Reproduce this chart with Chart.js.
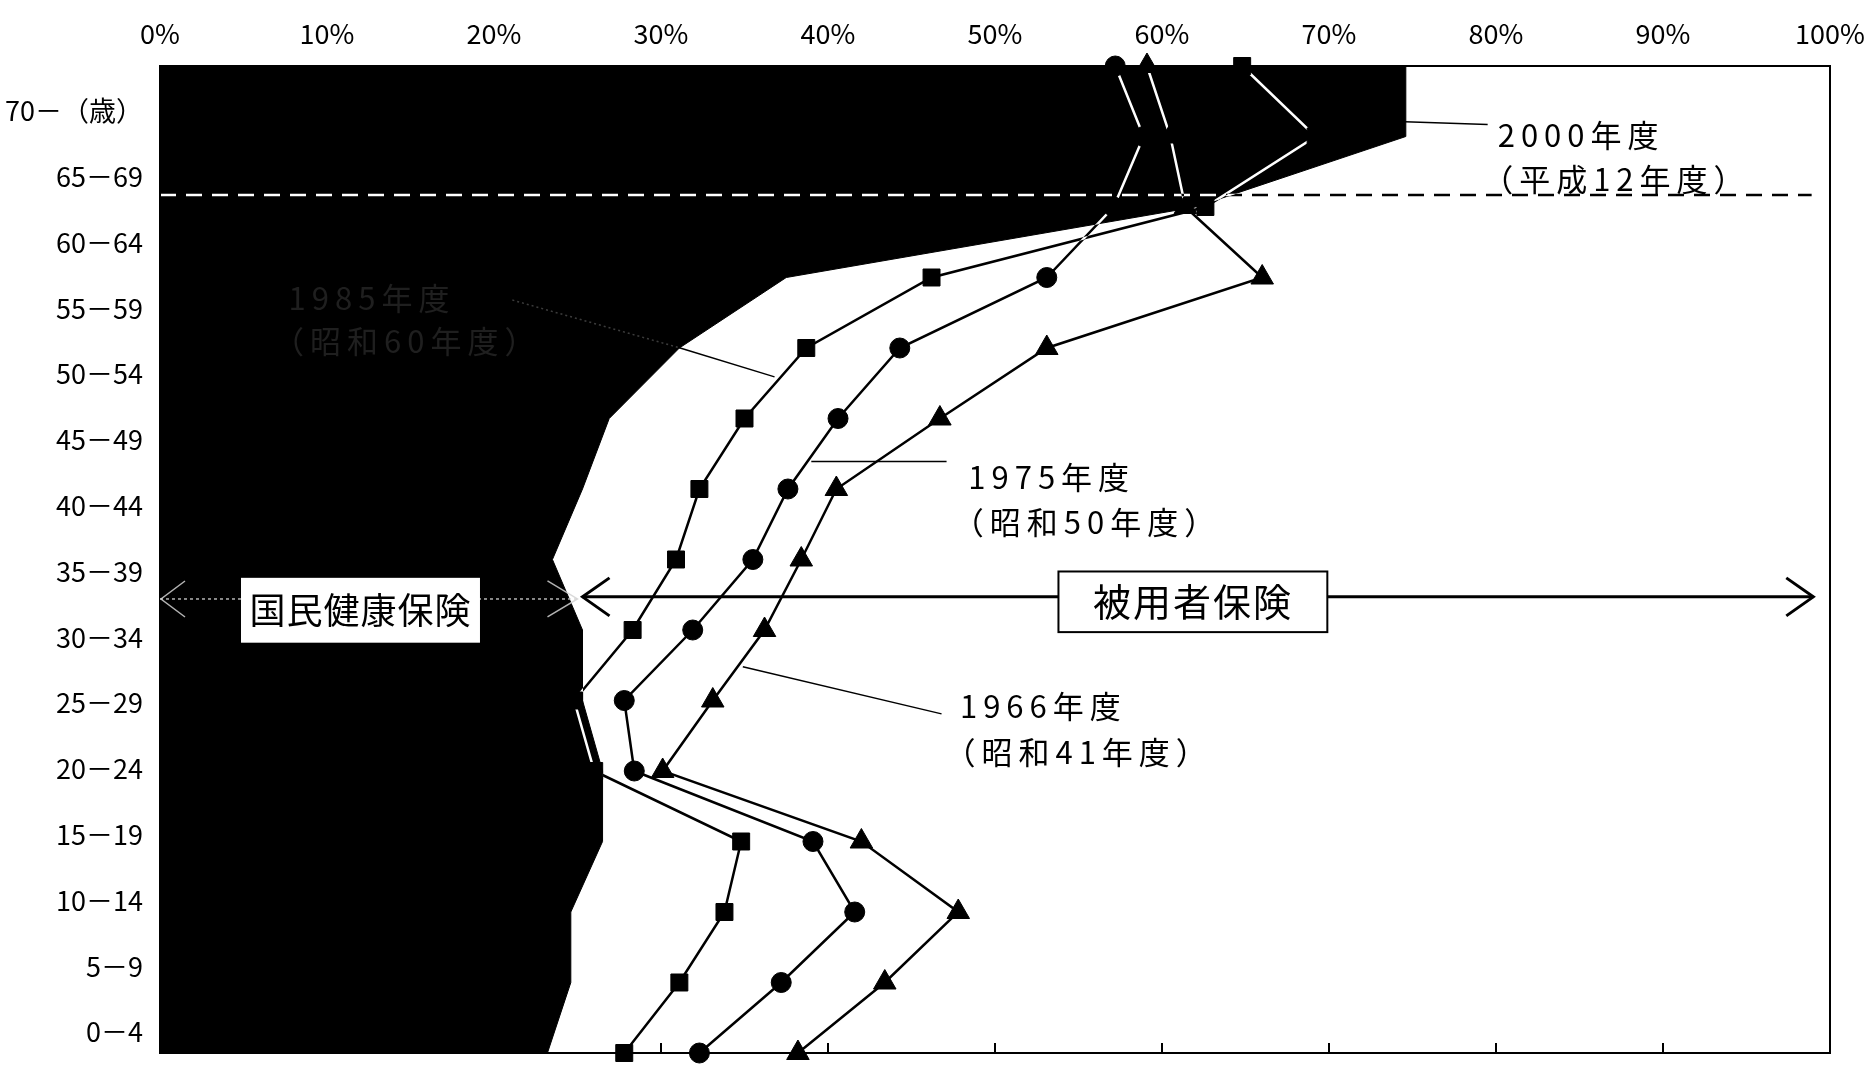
<!DOCTYPE html>
<html>
<head>
<meta charset="utf-8">
<script src="https://cdn.jsdelivr.net/npm/chart.js@4.4.1/dist/chart.umd.min.js"></script>
<style>
  html, body { margin: 0; padding: 0; background: #fff; }
  canvas { display: block; }
</style>
</head>
<body>
<canvas id="c" width="1876" height="1067"></canvas>
<script>
// ---------------- data ----------------
const ageGroups = ['0－4', '5－9', '10－14', '15－19', '20－24', '25－29', '30－34', '35－39',
                   '40－44', '45－49', '50－54', '55－59', '60－64', '65－69', '70－（歳）'];
const xTickValues = [0, 10, 20, 30, 40, 50, 60, 70, 80, 90, 100];
const xTickLabels = ['0%', '10%', '20%', '30%', '40%', '50%', '60%', '70%', '80%', '90%', '100%'];

// share (%) by age group, young -> old
const nhi2000 = [23.2, 24.6, 24.6, 26.5, 26.5, 25.3, 25.3, 23.5, 25.3, 26.9, 31.1, 37.5, 62.0, 74.6, 74.6];
const fy1966  = [38.2, 43.4, 47.8, 42.0, 30.1, 33.1, 36.2, 38.4, 40.5, 46.7, 53.1, 66.0, 61.4, 60.5, 59.1];
const fy1975  = [32.3, 37.2, 41.6, 39.1, 28.4, 27.8, 31.9, 35.5, 37.6, 40.6, 44.3, 53.1, 57.1, 58.9, 57.2];
const fy1985  = [27.8, 31.1, 33.8, 34.8, 26.0, 24.8, 28.3, 30.9, 32.3, 35.0, 38.7, 46.2, 62.6, 69.2, 64.8];

const label2000 = ['2000年度', '（平成12年度）'];
const label1985 = ['1985年度', '（昭和60年度）'];
const label1975 = ['1975年度', '（昭和50年度）'];
const label1966 = ['1966年度', '（昭和41年度）'];
const labelNHI = '国民健康保険';
const labelEmp = '被用者保険';

// ---------------- chart ----------------
const FONT = '"Noto Sans CJK JP", "Noto Sans", sans-serif';

function lineSet(data) {
  return { type: 'line', data, borderColor: '#fff', borderWidth: 2.5, pointRadius: 0,
           fill: false, tension: 0, order: 5, invert: true, clip: false };
}
function pointSet(data, style, r) {
  return { type: 'line', data, showLine: false, pointStyle: style, pointRadius: r,
           pointBackgroundColor: '#000', pointBorderColor: '#000', pointBorderWidth: 1,
           borderColor: '#000', order: 1, clip: false };
}

const decor = {
  id: 'decor',
  beforeDraw(chart) {
    const c = chart.ctx;
    c.save(); c.fillStyle = '#fff'; c.fillRect(0, 0, chart.width, chart.height); c.restore();
  },
  beforeDatasetDraw(chart, args) {
    if (chart.data.datasets[args.index].invert) {
      chart.ctx.save();
      chart.ctx.globalCompositeOperation = 'difference';
    }
  },
  afterDatasetDraw(chart, args) {
    if (chart.data.datasets[args.index].invert) chart.ctx.restore();
  },
  afterDatasetsDraw(chart) {
    const ctx = chart.ctx, xs = chart.scales.x, ys = chart.scales.y, ca = chart.chartArea;
    const X = v => xs.getPixelForValue(v), Y = v => ys.getPixelForValue(v);
    const seg = (x1, y1, x2, y2) => { ctx.beginPath(); ctx.moveTo(x1, y1); ctx.lineTo(x2, y2); ctx.stroke(); };
    const text = (s, x, y, size, color, align, ls) => {
      ctx.font = size + 'px ' + FONT;
      ctx.letterSpacing = (ls || 0) + 'px';
      ctx.fillStyle = color; ctx.textAlign = align; ctx.textBaseline = 'middle';
      ctx.fillText(s, x, y);
    };

    // dashed line (inverted on black)
    ctx.save();
    ctx.globalCompositeOperation = 'difference';
    ctx.strokeStyle = '#fff'; ctx.lineWidth = 2.5; ctx.setLineDash([16, 10]);
    seg(X(0), Y(12.17), X(98.9), Y(12.17));
    ctx.restore();

    ctx.save();
    // frame
    ctx.strokeStyle = '#000'; ctx.lineWidth = 2;
    ctx.strokeRect(ca.left, ca.top, ca.right - ca.left, ca.bottom - ca.top);
    // bottom ticks (inward)
    xTickValues.forEach(v => { if (v > 0 && v < 100) seg(X(v), ca.bottom, X(v), ca.bottom - 10); });

    // leaders
    ctx.lineWidth = 1.5;
    seg(X(74.55), Y(13.21), X(79.5), Y(13.17));
    seg(X(39.0), Y(8.39), X(47.1), Y(8.39));
    seg(X(34.9), Y(5.48), X(46.8), Y(4.81));
    seg(X(31.0), Y(10.01), X(36.8), Y(9.59));
    ctx.save();
    ctx.strokeStyle = '#3c3c3c'; ctx.setLineDash([2, 3]);
    seg(X(21.1), Y(10.68), X(31.0), Y(10.01));
    ctx.restore();

    // series labels
    const fs = 31, ls = 6;
    text(label2000[0], X(80.1), Y(13.02), fs, '#000', 'left', ls);
    text(label2000[1], X(80.1) - fs * 0.5, Y(12.40), fs, '#000', 'left', ls);
    text(label1975[0], X(48.4), Y(8.17), fs, '#000', 'left', ls);
    text(label1975[1], X(48.4) - fs * 0.5, Y(7.53), fs, '#000', 'left', ls);
    text(label1966[0], X(47.9), Y(4.92), fs, '#000', 'left', ls);
    text(label1966[1], X(47.9) - fs * 0.5, Y(4.27), fs, '#000', 'left', ls);
    text(label1985[0], X(7.7), Y(10.71), fs, '#1f1f1f', 'left', ls);
    text(label1985[1], X(7.7) - fs * 0.5, Y(10.09), fs, '#1f1f1f', 'left', ls);

    // 国民健康保険 arrow (faint dotted on black)
    const yN = Y(6.44);
    ctx.save();
    ctx.strokeStyle = 'rgba(210,210,210,0.85)'; ctx.lineWidth = 1.5; ctx.setLineDash([3, 3]);
    seg(X(0), yN, X(25.0), yN);
    ctx.setLineDash([]);
    ctx.beginPath();
    ctx.moveTo(X(0) + 25, yN - 18); ctx.lineTo(X(0) + 1, yN); ctx.lineTo(X(0) + 25, yN + 18);
    ctx.moveTo(X(25.0) - 30, yN - 18); ctx.lineTo(X(25.0), yN); ctx.lineTo(X(25.0) - 30, yN + 18);
    ctx.stroke();
    ctx.restore();
    const nb = { l: X(4.85), r: X(19.16), t: Y(6.74), b: Y(5.82) };
    ctx.fillStyle = '#fff';
    ctx.fillRect(nb.l, nb.t, nb.r - nb.l, nb.b - nb.t);
    text(labelNHI, (nb.l + nb.r) / 2, (nb.t + nb.b) / 2, 36, '#000', 'center', 1);

    // 被用者保険 arrow
    const yE = Y(6.47);
    ctx.strokeStyle = '#000'; ctx.lineWidth = 3;
    seg(X(25.3), yE, X(99.0), yE);
    ctx.beginPath();
    ctx.moveTo(X(25.3) + 27, yE - 19); ctx.lineTo(X(25.3), yE); ctx.lineTo(X(25.3) + 27, yE + 19);
    ctx.moveTo(X(99.0) - 27, yE - 19); ctx.lineTo(X(99.0), yE); ctx.lineTo(X(99.0) - 27, yE + 19);
    ctx.stroke();
    const eb = { l: X(53.8), r: X(69.9), t: Y(6.83), b: Y(5.97) };
    ctx.fillStyle = '#fff';
    ctx.fillRect(eb.l, eb.t, eb.r - eb.l, eb.b - eb.t);
    ctx.lineWidth = 2;
    ctx.strokeRect(eb.l, eb.t, eb.r - eb.l, eb.b - eb.t);
    text(labelEmp, (eb.l + eb.r) / 2, (eb.t + eb.b) / 2, 38, '#000', 'center', 2);
    ctx.restore();
  }
};

new Chart(document.getElementById('c'), {
  data: {
    labels: ageGroups,
    datasets: [
      { type: 'line', data: nhi2000, borderColor: '#000', borderWidth: 1, backgroundColor: '#000',
        fill: 'origin', pointRadius: 0, tension: 0, order: 10 },
      lineSet(fy1985), lineSet(fy1975), lineSet(fy1966),
      pointSet(fy1985, 'rect', 12), pointSet(fy1975, 'circle', 10), pointSet(fy1966, 'triangle', 13)
    ]
  },
  options: {
    indexAxis: 'y',
    responsive: false,
    animation: false,
    events: [],
    layout: { padding: { top: 0, left: 0, right: 46, bottom: 2 } },
    plugins: { legend: { display: false }, tooltip: { enabled: false } },
    scales: {
      x: {
        type: 'linear', position: 'top', min: 0, max: 100,
        afterBuildTicks: s => { s.ticks = xTickValues.map(v => ({ value: v })); },
        ticks: { callback: (v, i) => xTickLabels[i], font: { family: FONT, size: 27 }, color: '#000',
                 padding: 16, autoSkip: false, maxRotation: 0 },
        grid: { display: false, drawTicks: false },
        border: { display: true, color: '#000', width: 2 },
        afterFit: s => { s.height = 66; s.paddingLeft = 0; s.paddingRight = 0; }
      },
      y: { type: 'category', display: false, reverse: true, offset: false },
      yl: {
        type: 'category', position: 'left', reverse: true, offset: true,
        grid: { display: false, drawTicks: false }, border: { display: false },
        ticks: { font: { family: FONT, size: 27 }, color: '#000', padding: 17, labelOffset: 12, autoSkip: false },
        afterFit: s => { s.width = 160; s.paddingTop = 0; s.paddingBottom = 0; }
      }
    }
  },
  plugins: [decor]
});
</script>
</body>
</html>
